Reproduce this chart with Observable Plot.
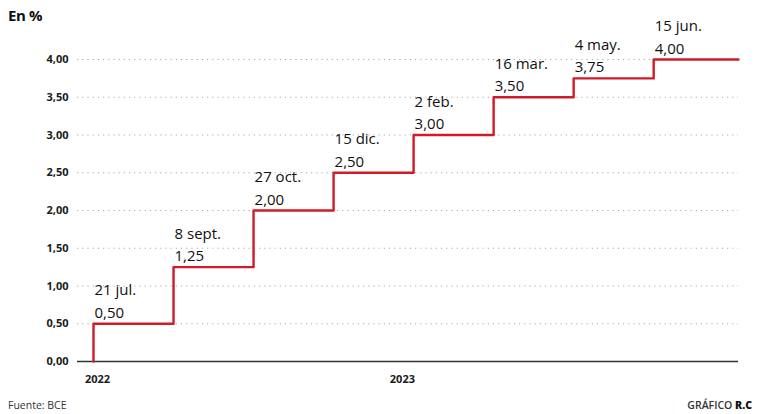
<!DOCTYPE html>
<html>
<head>
<meta charset="utf-8">
<script src="https://cdn.jsdelivr.net/npm/d3@7"></script>
<script src="https://cdn.jsdelivr.net/npm/@observablehq/plot@0.6"></script>
<style>
  html, body { margin: 0; padding: 0; background: #fff; }
  #wrap { position: relative; width: 758px; height: 414px; font-family: "Open Sans", sans-serif; color: #222; }
  #title { position: absolute; left: 8px; top: 5px; font-size: 15px; font-weight: 700; letter-spacing: -0.4px; color: #111; }
  #chart { position: absolute; left: 0; top: 0; }
  #foot { position: absolute; left: 0; top: 394px; width: 758px; height: 20px; font-size: 10.5px; }
  #src { position: absolute; left: 8px; top: 4px; color: #333; }
  #credit { position: absolute; right: 6px; top: 4px; font-weight: 600; color: #333; }
  #credit b { font-weight: 800; color: #111; }
  svg [aria-label="y-axis tick label"] text, svg [aria-label="x-axis tick label"] text { font-weight: 700; }
</style>
</head>
<body>
<div id="wrap">
  <div id="chart"></div>
  <div id="title">En %</div>
  <div id="foot"><span id="src">Fuente: BCE</span><span id="credit">GRÁFICO <b>R.C</b></span></div>
</div>
<script>
// Data
const dates = ["21 jul.", "8 sept.", "27 oct.", "15 dic.", "2 feb.", "16 mar.", "4 may.", "15 jun."];
const rates = [0.50, 1.25, 2.00, 2.50, 3.00, 3.50, 3.75, 4.00];
const rateLabels = ["0,50", "1,25", "2,00", "2,50", "3,00", "3,50", "3,75", "4,00"];
const startRate = 0;
const xEnd = 8.06;          // where the last step ends (in step index units)
const xStart = -0.2;
const yTicks = [0, 0.5, 1, 1.5, 2, 2.5, 3, 3.5, 4];
const gridTicks = [0.5, 1, 1.5, 2, 2.5, 3, 3.5, 4];
const yearTickPos = [0.05, 3.86];
const yearLabels = ["2022", "2023"];

const steps = rates.map((r, i) => ({i, r, label: dates[i] + "\n" + rateLabels[i]}));
const linePts = [{i: 0, r: startRate}, ...steps, {i: xEnd, r: rates[rates.length - 1]}];

const chart = Plot.plot({
  width: 758,
  height: 394,
  marginLeft: 77,
  marginRight: 20,
  marginTop: 59,
  marginBottom: 33,
  style: {fontFamily: "'Open Sans', sans-serif", color: "#222", background: "transparent"},
  x: {domain: [xStart, xEnd]},
  y: {domain: [0, 4]},
  marks: [
    Plot.gridY(gridTicks, {stroke: "#aaaaaa", strokeOpacity: 1, strokeWidth: 1, strokeDasharray: "1.2,4"}),
    Plot.ruleY([0], {stroke: "#333", strokeWidth: 1.6}),
    Plot.axisY(yTicks, {tickSize: 0, tickPadding: 9, fontSize: 11, fontWeight: 700, fill: "#1a1a1a",
      tickFormat: d => d.toFixed(2).replace(".", ","), label: null}),
    Plot.axisX(yearTickPos, {tickSize: 0, tickPadding: 14, fontSize: 11, fontWeight: 700, fill: "#1a1a1a",
      tickFormat: d => yearLabels[yearTickPos.indexOf(d)], label: null}),
    Plot.line(linePts, {x: "i", y: "r", curve: "step-after", stroke: "#d11a2a", strokeWidth: 2.4}),
    Plot.text(steps, {x: "i", y: "r", text: "label", textAnchor: "start", lineAnchor: "bottom",
      dx: 1, dy: -6, fontSize: 15, lineHeight: 1.5, fill: "#111"})
  ]
});
document.getElementById("chart").appendChild(chart);
</script>
</body>
</html>
